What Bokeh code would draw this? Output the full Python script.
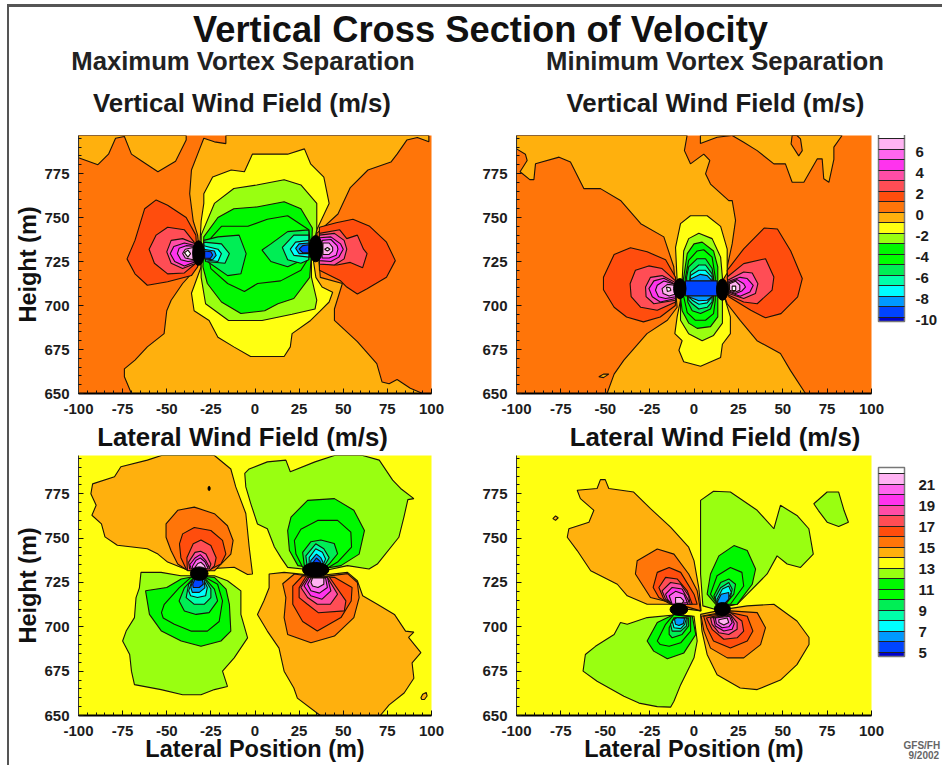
from bokeh.embed import file_html
from bokeh.resources import INLINE
from bokeh.layouts import column, row
from bokeh.models import (ColorBar, ColumnDataSource, FixedTicker, LinearColorMapper, Range1d)
from bokeh.plotting import figure
from bokeh.core.properties import value

FONT = "Liberation Sans"

x_ticks = [-100, -75, -50, -25, 0, 25, 50, 75, 100]
y_ticks = [650, 675, 700, 725, 750, 775]

# colour of each contour band, lowest band first
band_colors = ["#0000CC", "#0044FF", "#0099FF", "#00FFFF", "#00FFAA", "#00EE55", "#00FF00", "#00F800",
               "#99FF11", "#FFFF11", "#FFB00D", "#FF7509", "#FF4D0D", "#FF4D55", "#FF4DA6", "#FF33EE",
               "#FF66EE", "#FFB3F3", "#FFFFFF"]
vert_levels = list(range(-10, 8))
lat_levels = list(range(5, 23))
vert_labels = [-10, -8, -6, -4, -2, 0, 2, 4, 6]
lat_labels = [5, 7, 9, 11, 13, 15, 17, 19, 21]

# ---- Vertical wind, maximum separation: (x, height) contour outlines; painted in order ----
vmax_amber_nw = [(-100,796.6),(-100,784),(-89,780),(-83,786),(-79,795),(-74,796),(-70,786),(-64,782),(-55,776),(-45,782),(-39,794),(-39,796.6)]
vmax_amber = [(-16.5,796.6),(-16.5,792),(-23,793),(-29,795),(-32.5,786),(-36,777),(-37,763.5),(-35,748),(-32.5,740),(-31.5,729.5),(-32.5,722),(-41,712.5),(-47.5,703),(-50,697),(-51.5,684),(-61,676.5),(-68,669),(-74,664),(-74,659.5),(-70,650),(95,650),(88,653),(80.5,658),(76,655.5),(72,656.5),(69,667),(58,679.5),(45,691.5),(45,698),(49.5,712.5),(37,716),(35,741),(47,752),(54,767),(64,777),(77,781.5),(80.5,786),(86,794),(92,795.5),(98.5,793),(98.5,796.6)]
vmax_yellow = [(-30.5,748),(-29,758),(-29,763.5),(-24,773),(-13.5,777),(-6,776),(-1.5,786),(7,786),(18.5,786),(28,789),(31.5,780.5),(39,773),(42,758),(35,743),(32.5,729.5),(34.5,716),(38,710.5),(44,707.5),(42,702),(37,697),(31.5,691.5),(21,684),(20,676.5),(16.5,671),(-2.5,671),(-12,676.5),(-21,682),(-26,691.5),(-34.5,697),(-36,707),(-30.5,722),(-31.5,729.5)]
vmax_lime = [(-30.5,740),(-23,758),(-12,766.5),(1,768.5),(16.5,771.5),(26,768.5),(35,758),(35,743),(32,729.5),(32,716),(35,703),(34,698),(21,695),(4,691.5),(-15,691.5),(-28,701),(-30.5,716),(-30.5,722),(-30.5,729.5)]
vmax_green1 = [(-29,739),(-21,750),(-12,755),(1,756),(16.5,759),(26,755),(32.5,744),(32,729.5),(31,716),(22,704),(13,701),(5.5,697),(-8,695.5),(-19,702),(-27,712.5),(-29.5,722)]
vmax_green2 = [(-28,735),(-19,745),(-4,745),(7,749),(18.5,751),(30.5,743),(32,729.5),(26,720),(14.5,714),(1.5,712.5),(-6,708),(-15.5,712.5),(-25,721)]
vmax_spring_l = [(-29,737),(-21,739),(-9,740),(-5,729.5),(-8,718),(-15.5,717),(-27,725),(-30,729.5)]
vmax_spring_r = [(30.5,743),(18.5,742),(9,735),(4,731.5),(9,725),(18.5,722),(30.5,727.5)]
vmax_aqua_l = [(-29,736),(-19,735),(-14.5,729.5),(-17,724),(-28,725)]
vmax_aqua_r = [(30.5,740),(22,740),(15.5,733),(18.5,726),(26,724),(30.5,726)]
vmax_cyan_l = [(-29,734),(-21,732),(-19,729.5),(-21,725),(-28,726)]
vmax_cyan_r = [(30.5,737),(23,736),(20,732),(22,728.5),(30.5,727.5)]
vmax_sky_l = [(-29,732),(-23,731),(-22,728.5),(-24,726),(-28.5,726.5)]
vmax_sky_r = [(30.5,735.5),(25,735),(23,732.5),(25,729.5),(30.5,729.5)]
vmax_blue_l = [(-28.5,731),(-25,730.5),(-24,728.7),(-25.3,726.8),(-28.5,727)]
vmax_blue_r = [(30.5,734.5),(27,734),(25,732),(27,730),(30.5,730)]
vmax_red_l = [(-33.5,740),(-39,750),(-49.5,757),(-56,760),(-62.5,755),(-68,737),(-72.5,726.5),(-68,718),(-61,711.5),(-49.5,713.5),(-36,717),(-32.5,722)]
vmax_rose_l = [(-34.5,736),(-40,743),(-49.5,744.5),(-56,740),(-60,732),(-57,724),(-49.5,718),(-40,718.5),(-33.5,724)]
vmax_pink_l = [(-33.5,735),(-41,738),(-47.5,737),(-50,730.5),(-47.5,724),(-41,721),(-33.5,724)]
vmax_mag_l = [(-33.5,734),(-40,735.5),(-46,733.5),(-48,729.5),(-45.5,725),(-40,722.5),(-33.5,725)]
vmax_orchid_l = [(-34,733.5),(-39,734),(-43,732.5),(-44,729.5),(-42,726),(-38,725),(-34,725.5)]
vmax_pale_l = [(-35,733),(-39.5,732),(-41,729.5),(-39.5,727),(-35,726)]
vmax_white_l = [(-40,730),(-38,731.5),(-36.5,729.5),(-38,727.5)]
vmax_red_r = [(36.5,744.5),(46,747),(55.5,749),(65,745),(74.5,736),(79.5,725.5),(74.5,716),(63.5,709.5),(58,706.5),(52,710.5),(48.5,714),(36.5,720)]
vmax_rose_r = [(36.5,741),(48,743),(52,738),(58,740),(61.5,732),(63.5,729.5),(61,721.5),(54,724.5),(46.5,723),(39,723.5)]
vmax_pink_r = [(36.5,740),(45,741),(50.5,737),(52,732),(50.5,726.5),(45,723),(36.5,723.5)]
vmax_mag_r = [(36.5,738.5),(43,739),(48.5,735),(50,732),(47.5,727.5),(43,725),(36.5,725.5)]
vmax_orchid_r = [(38,737),(43,737.5),(46.5,734),(47,732),(46,728.5),(42,727),(38,727)]
vmax_pale_r = [(38.5,735.5),(42,735.5),(44,733),(44,731),(42,729),(38.5,729)]
vmax_white_r = [(41,733),(42.5,732),(41,731),(39.5,732)]
vmax_regions = [(-1,vmax_amber_nw),(-1,vmax_amber),(-2,vmax_yellow),(-3,vmax_lime),(-4,vmax_green1),(-5,vmax_green2),
    (-6,vmax_spring_l),(-6,vmax_spring_r),(-7,vmax_aqua_l),(-7,vmax_aqua_r),(-8,vmax_cyan_l),(-8,vmax_cyan_r),
    (-9,vmax_sky_l),(-9,vmax_sky_r),(-10,vmax_blue_l),(-10,vmax_blue_r),
    (1,vmax_red_l),(2,vmax_rose_l),(3,vmax_pink_l),(4,vmax_mag_l),(5,vmax_orchid_l),(6,vmax_pale_l),(7,vmax_white_l),
    (1,vmax_red_r),(2,vmax_rose_r),(3,vmax_pink_r),(4,vmax_mag_r),(5,vmax_orchid_r),(6,vmax_pale_r),(7,vmax_white_r)]
vmax_core_x, vmax_core_y, vmax_core_w, vmax_core_h = [-32, 34.4], [729.8, 732.3], [6.6, 7.6], [14, 15]

# ---- Vertical wind, minimum separation ----
vmin_amber = [(-100,796.6),(-3.9,796.6),(-5.4,788),(-2,780.5),(5.5,786),(8.9,782.4),(6.5,774.8),(9.3,769),(19.6,759.6),(21.5,759.7),(23.4,748.4),(21.5,735),(18.7,722),(16,714),(15.9,708.6),(18.7,701),(26,691.6),(35.5,680),(48.7,672.7),(54.4,663),(62.8,650),(-49,650),(-45,661),(-39.5,669),(-26.5,684),(-15,691.6),(-9.5,699),(-10.4,708.6),(-11.4,722),(-17,739),(-30,746.5),(-41.4,759.7),(-52.7,766.4),(-62,766.4),(-69.6,781.5),(-76,784.3),(-89.3,780.5),(-90.2,771.5),(-92.5,771.5),(-98,776),(-94,782.4),(-95,786),(-100,789)]
vmin_amber_ne = [(21.5,796.6),(28,792.8),(35.6,788),(45,780.5),(51.5,780.5),(55.3,770),(61.9,770),(69.4,783.3),(72.2,783.3),(73.1,772),(76,770),(78.8,783),(78.8,790),(83.4,796.6)]
vmin_amber_top = [(3.6,792),(13,795.6),(21.5,796.6),(3.6,796.6)]
vmin_amber_dot = [(-53.6,659.5),(-51,661),(-48,661),(-51,659)]
vmin_orange_isle = [(55.3,796.6),(54.7,791.8),(59,785),(61,788),(60,794.7),(58,796.6)]
vmin_yellow = [(-7.6,746.5),(-2,751),(7.4,751),(15,745),(18.7,732),(18.7,718.5),(16,714),(16,708.6),(20.5,693.5),(20.5,684),(16,678),(15,670.5),(3.7,665.5),(-5.8,668),(-8.5,674.6),(-6.7,680),(-10.8,684),(-9.5,693.5),(-7.6,703),(-9.5,708.6),(-9.5,714),(-10.4,733)]
vmin_lime = [(-5.8,731),(-3,738),(2.7,741),(10.2,738),(15,727.5),(16,716),(16,703),(16,690),(11,683),(4.6,680),(-3,684),(-7.6,691.6),(-7.6,703),(-6.7,714)]
vmin_green1 = [(-3.8,729.5),(0,735),(4.6,736),(11,731),(13.4,722),(13.4,714),(13.4,705),(13.4,693.5),(9.3,688),(1.8,687),(-3,690),(-6.7,697),(-7.6,705),(-5.8,716)]
vmin_green2 = [(-3,725.7),(1.8,731),(5.5,731.7),(10.2,727.5),(12,716),(12,703),(11,695.4),(6.5,691.6),(0.8,691.6),(-3.8,696),(-5.8,705),(-4.8,716)]
vmin_spring = [(-3,722),(1.8,726.6),(6.5,726.6),(10.2,721),(11,716),(11,703),(9.3,698),(3.7,695.4),(-1,697),(-3.5,702),(-4.2,716)]
vmin_aqua = [(-2,719),(2.7,723),(6.5,723),(10.2,718),(10.2,702),(7.4,699),(2.7,698),(-1,701),(-3,703)]
vmin_cyan = [(-2,717),(2.7,720),(6.5,720),(10.2,716),(10.2,705),(7.4,701.5),(2.7,700.7),(-1,703),(-3,705)]
vmin_sky = [(-2,715),(3.6,717.7),(7.4,717),(10.2,714),(10.2,705),(7.4,703),(2.7,702.7),(-3,705)]
vmin_blue = [(-4.8,714),(13,714),(13,705.5),(-4.8,705.5)]
vmin_red_l = [(-10.4,716),(-16,726),(-26.4,730.5),(-35.8,732.8),(-45,729),(-51,716),(-51,709),(-45,699),(-38,693.5),(-28.5,690.7),(-19,693.5),(-10.5,700)]
vmin_rose_l = [(-10.4,714),(-18,721),(-25.5,722.5),(-33,720),(-36,712.4),(-35.4,705),(-30,699),(-20.7,697.3),(-10.4,702)]
vmin_pink_l = [(-10.4,713),(-18,717),(-24.5,716),(-27.3,710.5),(-27,705),(-22.6,701),(-10.4,703)]
vmin_mag_l = [(-10.4,712),(-17,715.5),(-22.6,714),(-25.4,709.6),(-23.5,705),(-19,702),(-10.4,704)]
vmin_orchid_l = [(-10.4,712),(-17,713.9),(-20.7,711.5),(-21.7,708.7),(-20,705),(-16,704),(-10.4,705)]
vmin_pale_l = [(-10.8,711.5),(-15,712),(-18,709.6),(-17.4,706.8),(-14,705.4),(-10.8,706.4)]
vmin_white_l = [(-15.5,710.5),(-13.5,710),(-13,708.5),(-15,708)]
vmin_red_r = [(18.7,720),(28,732.2),(39.5,744),(47,743.5),(54.5,731),(61,715.3),(58.4,704.9),(49,695.4),(40.3,693),(32,697.3),(19.6,705)]
vmin_rose_r = [(18.7,716.2),(28,723.8),(40.3,726.6),(45,716.2),(44,708.7),(35.6,701),(28,702),(19.6,705.8)]
vmin_pink_r = [(19,714.3),(28,719),(32.8,718.5),(36,712.4),(34.6,706.8),(28,704),(19.6,706.8)]
vmin_mag_r = [(19.6,713.8),(26,716),(30,715.3),(33.4,711.5),(31.5,707.7),(26,705.2),(19.6,707.7)]
vmin_orchid_r = [(19.6,713),(24.3,714.7),(28,712.4),(29,710.5),(27,708.3),(23.4,706.8),(19.6,708.3)]
vmin_pale_r = [(20,712.4),(23.4,713.8),(25.8,711.5),(25.8,708.7),(23.4,707.7),(20,708.7)]
vmin_white_r = [(21.5,711),(23.5,711),(23.5,708.5),(21.5,708.5)]
vmin_regions = [(-1,vmin_amber),(-1,vmin_amber_ne),(-1,vmin_amber_top),(-1,vmin_amber_dot),(0,vmin_orange_isle),
    (-2,vmin_yellow),(-3,vmin_lime),(-4,vmin_green1),(-5,vmin_green2),(-6,vmin_spring),(-7,vmin_aqua),(-8,vmin_cyan),(-9,vmin_sky),(-10,vmin_blue),
    (1,vmin_red_l),(2,vmin_rose_l),(3,vmin_pink_l),(4,vmin_mag_l),(5,vmin_orchid_l),(6,vmin_pale_l),(7,vmin_white_l),
    (1,vmin_red_r),(2,vmin_rose_r),(3,vmin_pink_r),(4,vmin_mag_r),(5,vmin_orchid_r),(6,vmin_pale_r),(7,vmin_white_r)]
vmin_core_x, vmin_core_y, vmin_core_w, vmin_core_h = [-8, 16], [709.6, 709], [7, 6.6], [11.4, 12]

# ---- Lateral wind, maximum separation ----
lmax_amber_nw = [(-23,796.6),(-13.7,789),(-10.9,778.9),(-5.2,763.9),(-3.3,745),(-1.4,729.8),(-4.2,729.5),(-11.8,733.6),(-26.9,732.7),(-30.6,729.8),(-40,732.7),(-49.5,736.5),(-55,741),(-61,744),(-78,746),(-85,750.7),(-87,758),(-92.4,762.9),(-90,768.5),(-93,775),(-92,780.6),(-79.6,784.6),(-76,790.3),(-61,794),(-53,796.6)]
lmax_orange_n = [(-50.4,750.5),(-50.4,758),(-43.8,765.7),(-34.4,767.5),(-23,763.8),(-15.6,757),(-12.4,748.7),(-13.7,741),(-23,731.6),(-38,731.6),(-43.8,735.4),(-47.6,743)]
lmax_red_n = [(-42.8,746.8),(-41,752.4),(-34.4,756),(-25,754.3),(-18.4,748.7),(-16.5,741),(-19.3,735.4),(-25,732.6),(-32.5,731.6),(-39,732.6),(-42,739)]
lmax_rose_n = [(-38.6,739),(-35,746.8),(-30.6,749),(-25,745.8),(-22,739),(-23,734.4),(-26,731.6),(-38.3,731.9)]
lmax_pink_n = [(-37.6,736.5),(-34,742),(-30.8,742.6),(-27.8,741),(-25,735.4),(-26,732.6),(-37,732.6)]
lmax_mag_n = [(-37,735),(-34,738.8),(-31,740.7),(-28,737.5),(-26,733.9),(-36,732.6)]
lmax_orchid_n = [(-35.5,734),(-33.4,737.5),(-31,738.8),(-28.4,736.7),(-26.6,733),(-35,732.6)]
lmax_pale_n = [(-34,733.5),(-32.4,735.7),(-30.6,736.4),(-28.6,734.5),(-28,732.6),(-33.7,732.6)]
lmax_lime_s = [(-64.6,730.7),(-65.5,722),(-67.4,716.5),(-68.3,705.2),(-73,697.6),(-75,692),(-71,684.4),(-70,675),(-68.3,667.4),(-53.2,664.6),(-41,661.7),(-30.6,661.7),(-23,664.6),(-15.6,666.4),(-18.4,675),(-11.8,682.5),(-4.2,693.8),(-8,707),(-8,720.3),(-15.6,726),(-23,728.8),(-42,728.8),(-53.2,730.7)]
lmax_green1_s = [(-62,720.3),(-50,722.2),(-41.8,727),(-32.4,728.8),(-23,727.9),(-16.4,721.3),(-14.5,712.7),(-13.7,697.6),(-19.3,692),(-30.6,689),(-41.8,692),(-53,697.6),(-59.8,707)]
lmax_green2_s = [(-53,708),(-51.4,712.7),(-43,722),(-36.3,727.9),(-28.8,728.2),(-21.2,724),(-18.4,714.6),(-20.3,703),(-27,697.6),(-36.3,697.6),(-45.7,701.4),(-52,705)]
lmax_spring_s = [(-43,714.6),(-40,722),(-35,727.5),(-28.8,727.9),(-23,721.3),(-21.2,714.6),(-26,708),(-33.4,707),(-40,708.9)]
lmax_aqua_s = [(-39,716.5),(-37.6,724),(-34.4,727.5),(-28.8,727.5),(-25,721.3),(-25,716.5),(-28.8,712.7),(-34.4,712.7)]
lmax_cyan_s = [(-37.6,720.3),(-35.7,726),(-28.8,726),(-27,722.2),(-28,717.5),(-32.6,716.5),(-36.5,717.5)]
lmax_sky_s = [(-36.4,722.2),(-35,727),(-28.8,727),(-28.4,722),(-31.6,719.4),(-35.5,719.4)]
lmax_blue_s = [(-35.3,724),(-34,727),(-30,727),(-29.3,724),(-31.6,722.2),(-35,722.2)]
lmax_lime_ne = [(-5.8,786.5),(-3.3,789),(7,793),(17.5,794),(20,787.4),(34,793),(45,796.6),(61,796.6),(70.4,794),(78,782.7),(82.5,778),(90,772.3),(86.6,771.7),(84.4,762),(81.5,750.5),(69.3,735.4),(64.6,732.6),(52.4,734.5),(41,732),(27,732.6),(18.5,733.5),(14.7,739),(11,745),(7,755.3),(1.4,758),(-2.4,769.5),(-5.2,778.9)]
lmax_green1_n = [(18.5,754.3),(20.4,761.9),(29.8,771.3),(45,772.3),(56,765.7),(62,754.3),(59,741),(48.7,734.5),(37.5,732.6),(24.3,734.5),(19.5,743)]
lmax_green2_n = [(22.3,748.7),(26,755),(35.5,760),(46.8,760),(54.3,753.4),(54.7,745),(46.8,736.5),(40.2,732.6),(27,733.6),(23.2,741)]
lmax_spring_n = [(27,742),(31.7,748),(37.3,749),(44.9,747),(46.8,741.2),(42,735.4),(38.4,732.6),(28,734)]
lmax_aqua_n = [(28.8,740),(34.4,746.8),(39,744),(42,739),(39,733.9),(29.6,733.9)]
lmax_cyan_n = [(30.7,739),(34.4,744),(38.2,742),(40,738.3),(38.2,733.9),(30.7,733.9)]
lmax_sky_n = [(31.6,737.3),(34.8,741),(37.3,739),(38.6,736.3),(37.3,733.9),(31.6,733.9)]
lmax_blue_n = [(32.5,735.8),(34.8,738.8),(36.9,736.9),(37.6,733.9),(32.5,733.9)]
lmax_amber_se = [(8,729.8),(16.5,730.7),(35.3,728.8),(52.4,730.7),(58,726),(61,717.5),(69.3,712.7),(79,707),(85.3,697.6),(90,697),(87,694),(94,685.4),(89,679.7),(90,671),(84.5,662.7),(76,656),(71,650),(37,650),(24,659.8),(22,665.5),(16.5,675),(13.6,688),(7,697.6),(1.4,707),(5,714.6),(8,722)]
lmax_amber_dot = [(94,660),(95,662),(97,663),(97.5,661),(96,659),(94.5,659)]
lmax_orange_s = [(15.7,724.3),(22.3,729.8),(35.3,727.9),(52.4,730),(58,725),(59,716.5),(56,705.2),(45,694.8),(31.7,691),(18.5,695.7),(16.5,705.2),(17.5,716.5)]
lmax_red_s = [(21.4,723),(27,728.8),(45,727.9),(55,722.2),(54.5,714.6),(48.7,705.2),(35.3,697.6),(27,703),(21.4,712.7)]
lmax_rose_s = [(25,722),(28.8,728.2),(42,728.2),(51.5,714.6),(50.6,709),(36,707.9),(29.7,712.7),(25,716.5)]
lmax_pink_s = [(26,722.2),(29.8,727.9),(41,727.9),(46.8,718.4),(42.7,712.7),(35.3,712.7),(29.8,716.5)]
lmax_mag_s = [(27.8,723),(30.7,727.9),(41,727.9),(43,720.3),(38,715.6),(31.6,717.5)]
lmax_orchid_s = [(29.8,724),(31.7,727.5),(40,727.5),(41,722.2),(36.5,719),(31.7,720.3)]
lmax_pale_s = [(31.7,725),(32.6,727.5),(39,727.5),(39,724),(35.7,722.2),(32.6,723)]
lmax_regions = [(14,lmax_amber_nw),(15,lmax_orange_n),(16,lmax_red_n),(17,lmax_rose_n),(18,lmax_pink_n),(19,lmax_mag_n),(20,lmax_orchid_n),(21,lmax_pale_n),
    (12,lmax_lime_s),(11,lmax_green1_s),(10,lmax_green2_s),(9,lmax_spring_s),(8,lmax_aqua_s),(7,lmax_cyan_s),(6,lmax_sky_s),(5,lmax_blue_s),
    (12,lmax_lime_ne),(11,lmax_green1_n),(10,lmax_green2_n),(9,lmax_spring_n),(8,lmax_aqua_n),(7,lmax_cyan_n),(6,lmax_sky_n),(5,lmax_blue_n),
    (14,lmax_amber_se),(14,lmax_amber_dot),(15,lmax_orange_s),(16,lmax_red_s),(17,lmax_rose_s),(18,lmax_pink_s),(19,lmax_mag_s),(20,lmax_orchid_s),(21,lmax_pale_s)]
lmax_core_x, lmax_core_y, lmax_core_w, lmax_core_h = [-31.6, 34.4, -26], [730, 732.2, 778], [10, 15, 1.2], [7.6, 8.2, 2.4]

# ---- Lateral wind, minimum separation ----
lmin_amber_nw = [(-65.8,777),(-54.6,778),(-52.7,783),(-50,783),(-48,778),(-34,776),(-24.5,766.6),(-13.2,756.2),(-3,744.9),(0,737.3),(2.7,722),(4,709),(-3.8,710),(-11.3,712.7),(-26.4,712.7),(-37.6,717.5),(-43.2,724),(-58.2,731.6),(-65.8,743),(-71.4,750.5),(-70.5,755.3),(-59.2,759),(-56.4,765.7),(-64,772.3)]
lmin_amber_dot = [(-79.5,761),(-78,762.5),(-76.5,761.5),(-78,760)]
lmin_orange_n = [(-33,729.8),(-32,737.3),(-20.7,743.9),(-11.3,741),(-3,729.8),(1.8,720.3),(3.7,709),(-5.7,711.8),(-13.2,713.7),(-24.5,716.5)]
lmin_red_n = [(-23,722.2),(-20.7,730.7),(-14,733.5),(-7.5,730.7),(0,718.4),(1.8,712.7),(-3.8,712.7),(-13.2,712.7),(-19.8,716.5)]
lmin_rose_n = [(-19.8,722.2),(-16,727.9),(-9.5,727),(-3.8,720.3),(-1,712.7),(-12.3,712.7),(-17,715.6)]
lmin_pink_n = [(-18,720.3),(-13.2,725),(-7.5,724),(-3,717.5),(-2.2,712.7),(-12.3,712.7),(-16,715.6)]
lmin_mag_n = [(-16,718.4),(-12.3,722.2),(-6.7,721.3),(-3,714.6),(-3.8,712.7),(-12.3,712.7),(-15,715.6)]
lmin_orchid_n = [(-14,717.5),(-10.4,720),(-5.7,718.4),(-3.8,713.7),(-12.3,712.7)]
lmin_pale_n = [(-10.4,716.5),(-7.5,716.5),(-5.7,714.6),(-6.7,713.3),(-10.4,713.3)]
lmin_lime_ne = [(3.7,771.3),(11,776.4),(20.5,776),(35.6,765.7),(45,755.3),(48.7,768.5),(58,762.8),(64.7,755.3),(67.2,741),(60,733.5),(52.5,735.4),(46.8,740),(41.2,729.8),(30,718.4),(24.3,712.7),(11.2,710),(5,711.8),(3.7,729.8)]
lmin_lime_isle = [(67.5,769.4),(75,776),(81.5,776),(84.5,765.7),(87,759),(81.5,756.6),(75,759),(70,765.7)]
lmin_green1_n = [(9.3,729.8),(14,740),(22.5,745.8),(30,743),(34.7,732.6),(32.8,724),(24.3,712.7),(13,711.8),(7.4,718.4)]
lmin_green2_n = [(9.3,718.4),(13,728.8),(20.5,733.5),(27,730.7),(28,723),(20.5,712.7),(13,712.7)]
lmin_spring_n = [(11.2,717.5),(15,725),(19.6,727),(23.4,724),(22.4,718.4),(17.7,712.7),(13,712.7)]
lmin_aqua_n = [(12,716.5),(15,722),(19.6,725),(21.5,721.3),(20.5,716.5),(16.8,712.7),(13,712.7)]
lmin_cyan_n = [(13,715.6),(16,721.3),(19.6,723),(21,719.4),(19,715.6),(16.4,712.7),(13.4,712.7)]
lmin_sky_n = [(13.4,714.6),(15.3,718.4),(19.6,719.4),(19.6,715.6),(16.8,712.7),(13.4,712.7)]
lmin_lime_sw = [(-41.4,702.4),(-37.6,701.4),(-26.4,705.2),(-11.3,706.7),(0,706),(1.8,692),(0,682.5),(-7.5,667.4),(-11.3,658),(-13.2,654.7),(-20.7,655),(-31,657),(-39.5,660.8),(-54.6,669.3),(-62.5,675),(-61.2,684.4),(-55.5,689),(-45,695.7)]
lmin_green1_s = [(-26.4,692),(-20.7,702.4),(-11.3,707),(-1,706),(1,695.7),(-5.7,685.3),(-15,682),(-22.7,686.3)]
lmin_green2_s = [(-20.7,692),(-16,701.4),(-11.3,707),(-1.9,705.6),(-1.9,697.6),(-7.5,691),(-14,689),(-19,690)]
lmin_spring_s = [(-14,699.5),(-11.3,705),(-3,705),(-3,700.5),(-6.7,695.7),(-12.3,693.8),(-14,695.7)]
lmin_aqua_s = [(-13.2,701.4),(-11.3,705),(-3.8,705),(-4.2,700.5),(-7.5,697.6),(-12.3,697.6)]
lmin_cyan_s = [(-12.3,703.3),(-10.4,705),(-4.2,705),(-5.3,701.4),(-7.5,699),(-11.3,699.5)]
lmin_sky_s = [(-11,704.3),(-9.5,705.2),(-5.3,704.8),(-6,701.8),(-8.5,700.8),(-10.4,701.4)]
lmin_amber_se = [(3.7,707),(18,710),(30,711.8),(45,712.7),(58,703.3),(64.8,694),(64.8,690),(58,678.7),(48.7,670),(35.6,664.6),(26,665.5),(13,673),(7.4,684.4),(4.5,697.6)]
lmin_orange_s = [(4,706),(20.5,709),(35.6,708),(40.3,699.5),(37.5,690),(28,682.5),(18.8,682.5),(9.3,688),(5.6,697.6)]
lmin_red_s = [(5.4,706),(20.5,708),(30,706),(33.2,697.6),(30,692),(20.5,688),(11,692),(7.3,699.5)]
lmin_rose_s = [(7,705),(20.5,708),(27,703.3),(28,697.6),(24.3,693.8),(16.8,693),(10.2,698.6)]
lmin_pink_s = [(9.3,705),(20.5,707),(24.3,702.4),(24.3,698.6),(19.6,695.7),(14,696.7),(10.2,701.4)]
lmin_mag_s = [(11,705),(20.5,706.7),(22.7,701.8),(21.5,698.6),(16.8,697.6),(12,700.5)]
lmin_orchid_s = [(12,705),(20,706),(21.5,702.4),(19.6,700),(15.8,699.5),(12.6,701.8)]
lmin_pale_s = [(14,704),(18.7,705),(19.6,702.4),(16.8,701),(14,702.4)]
lmin_regions = [(14,lmin_amber_nw),(14,lmin_amber_dot),(15,lmin_orange_n),(16,lmin_red_n),(17,lmin_rose_n),(18,lmin_pink_n),(19,lmin_mag_n),(20,lmin_orchid_n),(21,lmin_pale_n),
    (12,lmin_lime_ne),(12,lmin_lime_isle),(11,lmin_green1_n),(10,lmin_green2_n),(9,lmin_spring_n),(8,lmin_aqua_n),(7,lmin_cyan_n),(6,lmin_sky_n),
    (12,lmin_lime_sw),(11,lmin_green1_s),(10,lmin_green2_s),(9,lmin_spring_s),(8,lmin_aqua_s),(7,lmin_cyan_s),(6,lmin_sky_s),
    (14,lmin_amber_se),(15,lmin_orange_s),(16,lmin_red_s),(17,lmin_rose_s),(18,lmin_pink_s),(19,lmin_mag_s),(20,lmin_orchid_s),(21,lmin_pale_s)]
lmin_core_x, lmin_core_y, lmin_core_w, lmin_core_h = [-8.5, 16], [709.8, 710], [10, 9], [6.6, 7.4]


def panel(regions, base, low, core, width, height, left, right, top, bottom, xlabel=False, ylabel=True):
    """One contour panel; low is the band value of the first colour."""
    p = figure(width=width, height=height, x_range=Range1d(-100, 100), y_range=Range1d(650, 796.6),
               output_backend="svg", toolbar_location=None, min_border_left=left, min_border_right=right,
               min_border_top=top, min_border_bottom=bottom, background_fill_color=band_colors[base - low],
               outline_line_color=None)
    p.grid.visible = False
    src = ColumnDataSource(dict(
        xs=[[pt[0] for pt in poly] for _, poly in regions],
        ys=[[pt[1] for pt in poly] for _, poly in regions],
        color=[band_colors[band - low] for band, _ in regions]))
    p.patches("xs", "ys", source=src, fill_color="color", line_color="#1a1208", line_width=1.1)
    p.ellipse(core[0], core[1], width=core[2], height=core[3], color="black")
    p.xaxis.ticker = FixedTicker(ticks=x_ticks, minor_ticks=list(range(-100, 101, 5)))
    p.yaxis.ticker = FixedTicker(ticks=y_ticks, minor_ticks=list(range(650, 800, 5)))
    p.xaxis.major_label_overrides = {t: str(t) for t in x_ticks}
    for ax in (p.xaxis[0], p.yaxis[0]):
        ax.major_tick_in, ax.major_tick_out = 5, 0
        ax.minor_tick_in, ax.minor_tick_out = 3, 0
        ax.major_tick_line_color = ax.minor_tick_line_color = "#111111"
        ax.major_label_text_font = FONT
        ax.major_label_text_font_style = "bold"
        ax.major_label_text_font_size = "15px"
        ax.major_label_text_color = "#1c1c1c"
        ax.axis_label_text_font = FONT
        ax.axis_label_text_font_style = "bold"
        ax.axis_label_text_font_size = "23.5px"
        ax.axis_label_text_color = "#111111"
    p.xaxis.axis_line_width = 2
    p.xaxis.axis_line_color = "#000000"
    p.yaxis.axis_line_color = "#333333"
    p.xaxis.major_label_standoff = 10
    p.yaxis.major_label_standoff = 9
    if xlabel:
        p.xaxis.axis_label = "Lateral Position (m)"
        p.xaxis.axis_label_standoff = -3
    if ylabel:
        p.yaxis.axis_label = "Height (m)"
        p.yaxis.axis_label_standoff = 0
    return p


def add_bar(p, levels, labels, shift, x, y, standoff):
    low = levels[0] - 0.4
    palette = [band_colors[0]] * 2
    for c in band_colors[1:-1]:
        palette += [c] * 5
    palette += [band_colors[-1]] * 3
    mapper = LinearColorMapper(palette=palette, low=low, high=low + 18)
    ticks = [v - shift for v in labels]
    bar = ColorBar(color_mapper=mapper, width=26, height=189, location=(x, y), padding=0, margin=0,
                   ticker=FixedTicker(ticks=ticks, minor_ticks=levels),
                   major_label_overrides={t: str(v) for t, v in zip(ticks, labels)},
                   major_tick_line_color=None, minor_tick_in=26, minor_tick_out=0,
                   minor_tick_line_color="#222222", minor_tick_line_width=1.2,
                   bar_line_color="#777777", bar_line_width=1.5, border_line_color=None,
                   background_fill_color=None, label_standoff=standoff,
                   major_label_text_font=FONT, major_label_text_font_style="bold",
                   major_label_text_font_size="15px", major_label_text_color="#1c1c1c")
    p.add_layout(bar)


def text_strip(width, height, x0, x1, y0, y1, xs, ys, texts, size, color, align="center", **extra):
    """A figure without axes that only holds lines of text, placed by its own ranges."""
    s = figure(width=width, height=height, x_range=Range1d(x0, x1), y_range=Range1d(y1, y0),
               output_backend="svg", toolbar_location=None, x_axis_location=None, y_axis_location=None,
               min_border=0, outline_line_color=None, **extra)
    s.grid.visible = False
    s.text(x=xs, y=ys, text=texts, text_font=value(FONT), text_font_style="bold", text_align=align,
           text_baseline="middle", text_font_size=size, text_color=color)
    return s


W1, W2 = 461, 472
p1 = panel(vmax_regions, 0, -11, (vmax_core_x, vmax_core_y, vmax_core_w, vmax_core_h), W1, 286, 69, 39, 0, 28)
p2 = panel(vmin_regions, 0, -11, (vmin_core_x, vmin_core_y, vmin_core_w, vmin_core_h), W2, 286, 46, 71, 0, 28, ylabel=False)
p3 = panel(lmax_regions, 13, 4, (lmax_core_x, lmax_core_y, lmax_core_w, lmax_core_h), W1, 312, 69, 39, 0, 52, xlabel=True)
p4 = panel(lmin_regions, 13, 4, (lmin_core_x, lmin_core_y, lmin_core_w, lmin_core_h), W2, 312, 46, 71, 0, 52, xlabel=True, ylabel=False)

add_bar(p2, vert_levels, vert_labels, 0.25, 362, 72, 11)
add_bar(p4, lat_levels, lat_labels, 0.1, 362, 59, 14)

head = text_strip(W1 + W2, 128, 9, 942, 7, 135, [480, 242.5, 714.5, 241.5, 715], [28.5, 60.5, 60.5, 102, 102],
                  ["Vertical Cross Section of Velocity", "Maximum Vortex Separation", "Minimum Vortex Separation",
                   "Vertical Wind Field (m/s)", "Vertical Wind Field (m/s)"],
                  ["36.3px", "25.7px", "25.7px", "25.8px", "25.8px"],
                  ["#111111", "#222222", "#222222", "#1a1a1a", "#1a1a1a"])
mid = text_strip(W1 + W2, 34, 9, 942, 421, 455, [242, 714.5], [436, 436],
                 ["Lateral Wind Field (m/s)", "Lateral Wind Field (m/s)"], "25.8px", "#111111")
foot = text_strip(40, 312, 902, 942, 455, 767, [903, 908], [745, 755], ["GFS/FH", "9/2002"], "10px", "#666666",
                  align="left", background_fill_color=None, border_fill_color=None)
foot_box = column(foot, spacing=0, styles={"margin-left": "-40px", "z-index": "5"})

root = column(head, row(p1, p2, spacing=0), mid, row(p3, p4, foot_box, spacing=0), spacing=0,
              styles={"border-top": "3px solid #555555", "border-left": "2px solid #555555",
                      "margin": "4px 0 -4px 7px"})
open("out.html", "w").write(file_html(root, INLINE))
